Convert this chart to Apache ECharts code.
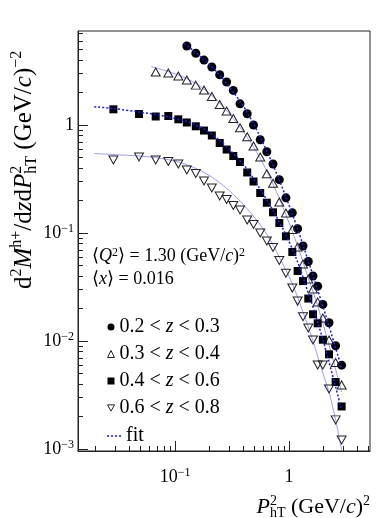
<!DOCTYPE html>
<html>
<head>
<meta charset="utf-8">
<script src="https://cdn.jsdelivr.net/npm/echarts@6/dist/echarts.min.js"></script>
<style>
  html, body { margin: 0; padding: 0; background: #fff; }
  #main { width: 382px; height: 518px; }
</style>
</head>
<body>
<div id="main"></div>
<script>
// P_hT^2 bin centres (GeV/c)^2, shared by all z bins
var pt2 = [0.0288, 0.0483, 0.0677, 0.0873, 0.1069, 0.1269, 0.1522, 0.1796, 0.2103, 0.2466,
  0.2836, 0.3246, 0.3717, 0.4298, 0.4882, 0.5590, 0.6388, 0.7241, 0.8221, 0.9393,
  1.069, 1.190, 1.327, 1.476, 1.623, 1.785, 1.980, 2.244, 2.564, 2.894];

// multiplicities, each z bin starts at a different pt2 index
var zA = [5.38, 4.61, 3.99, 3.44, 2.92, 2.50, 2.09, 1.57, 1.27, 1.00,
  0.731, 0.566, 0.436, 0.312, 0.212, 0.154, 0.110, 0.0760, 0.0546, 0.0401,
  0.0323, 0.0219, 0.0148, 0.00908, 0.00600];            // 0.2<z<0.3, from index 5
var zB = [3.09, 3.03, 2.84, 2.61, 2.34, 2.11, 1.835, 1.548, 1.347, 1.148,
  0.944, 0.779, 0.639, 0.506, 0.354, 0.289, 0.194, 0.1534, 0.1080, 0.0744,
  0.0518, 0.0376, 0.0304, 0.0230, 0.0164, 0.01026, 0.00635, 0.00393]; // 0.3<z<0.4, from index 2
var zC = [1.397, 1.264, 1.199, 1.211, 1.129, 1.055, 0.973, 0.889, 0.800, 0.682,
  0.593, 0.517, 0.455, 0.364, 0.300, 0.235, 0.191, 0.1557, 0.1240, 0.0934,
  0.0669, 0.0446, 0.0360, 0.0248, 0.01773, 0.01464, 0.01032, 0.00756, 0.00419, 0.00249]; // 0.4<z<0.6
var zD = [0.4745, 0.506, 0.4745, 0.460, 0.436, 0.3835, 0.356, 0.303, 0.2614, 0.2204,
  0.2046, 0.180, 0.1636, 0.1322, 0.1201, 0.1002, 0.0845, 0.0736, 0.0558, 0.0425,
  0.0310, 0.0235, 0.01685, 0.01325, 0.01026, 0.00602, 0.00602, 0.00361, 0.00187, 0.00122]; // 0.6<z<0.8

// fit curves
var fitAx = [0.1207, 0.1796, 0.2466, 0.3246, 0.4285, 0.559, 0.724, 0.9393, 1.190, 1.476, 1.785, 2.244, 2.894];
var fitAy = [5.70, 4.036, 2.901, 2.020, 1.319, 0.774, 0.4266, 0.2158, 0.1091, 0.0552, 0.02976, 0.01382, 0.00565];
var fitBx = [0.0616, 0.0873, 0.1267, 0.1796, 0.2466, 0.3246, 0.4285, 0.557, 0.724, 0.941, 1.190, 1.476, 1.785, 2.244, 2.894];
var fitBy = [3.476, 3.126, 2.693, 2.153, 1.598, 1.148, 0.774, 0.495, 0.2845, 0.1471, 0.0760, 0.0384, 0.02117, 0.00922, 0.00339];
var fitCx = [0.0196, 0.0288, 0.0483, 0.0677, 0.0873, 0.127, 0.1796, 0.2466, 0.3246, 0.4285, 0.557, 0.724, 0.941, 1.190, 1.476, 1.785, 2.244, 2.894];
var fitCy = [1.476, 1.421, 1.319, 1.251, 1.186, 1.077, 0.918, 0.719, 0.545, 0.392, 0.256, 0.162, 0.0960, 0.0540, 0.0279, 0.01505, 0.00642, 0.00231];
var fitDx = [0.0196, 0.0288, 0.0483, 0.0677, 0.1069, 0.1528, 0.2099, 0.2818, 0.3717, 0.4862, 0.6373, 0.8221, 1.062, 1.308, 1.614, 1.967, 2.244, 2.564, 2.894];
var fitDy = [0.545, 0.533, 0.517, 0.500, 0.455, 0.396, 0.330, 0.261, 0.198, 0.144, 0.0981, 0.0601, 0.0345, 0.01943, 0.01026, 0.00519, 0.00339, 0.00187, 0.000985];

var names = ['0.2 < z < 0.3', '0.3 < z < 0.4', '0.4 < z < 0.6', '0.6 < z < 0.8'];

var xMajor = [0.1, 1];
var xMinor = [0.02, 0.03, 0.04, 0.05, 0.06, 0.07, 0.08, 0.09, 0.2, 0.3, 0.4, 0.5, 0.6, 0.7, 0.8, 0.9, 2, 3, 4, 5];
var yMajor = [0.001, 0.01, 0.1, 1];
var yMinor = [0.002, 0.003, 0.004, 0.005, 0.006, 0.007, 0.008, 0.009, 0.02, 0.03, 0.04, 0.05, 0.06, 0.07, 0.08, 0.09,
  0.2, 0.3, 0.4, 0.5, 0.6, 0.7, 0.8, 0.9, 2, 3, 4, 5, 6, 7];

var serif = 'Liberation Serif';
var downTri = 'path://M0,0L10,0L5,9Z';
var dashIcon = 'path://M0,0h2v1.5h-2zM4,0h2v1.5h-2zM8,0h2v1.5h-2zM12,0h2v1.5h-2z';
var openStyle = { color: 'transparent', borderColor: '#222', borderWidth: 1, opacity: 1 };

function pairs(xs, ys, start) {
  var out = [];
  for (var i = 0; i < ys.length; i++) out.push([xs[start + i], ys[i]]);
  return out;
}

function powLabel(v) {
  var e = Math.round(Math.log10(v));
  if (e === 0) return '{m|1}';
  return '{m|10}{s|' + (e < 0 ? '\u2212' : '') + Math.abs(e) + '}';
}

var labelRich = {
  m: { fontFamily: serif, fontSize: 18, color: '#000', lineHeight: 20 },
  s: { fontFamily: serif, fontSize: 12, color: '#000', verticalAlign: 'top', lineHeight: 12 }
};

var xMin = 0.01409, xMax = 5.134, yMin = 0.000964, yMax = 7.41;

function logAxis(min, max, ticks, labels, major) {
  return {
    type: 'log',
    min: min,
    max: max,
    axisLine: { show: !major, lineStyle: { color: '#222', width: 1 } },
    axisTick: {
      show: true, inside: true, length: major ? 10 : 5,
      customValues: ticks,
      lineStyle: { color: '#222', width: 1 }
    },
    axisLabel: major ? { show: false } : {
      show: true, customValues: labels, formatter: powLabel, rich: labelRich
    },
    splitLine: { show: false }
  };
}

var xa0 = logAxis(xMin, xMax, xMajor.concat(xMinor), xMajor, false);
xa0.position = 'bottom';
xa0.axisLabel.margin = 16;
var xa1 = logAxis(xMin, xMax, xMajor, null, true);
xa1.position = 'bottom';
var ya0 = logAxis(yMin, yMax, yMajor.concat(yMinor), yMajor, false);
ya0.position = 'left';
ya0.axisLabel.margin = 4;
var ya1 = logAxis(yMin, yMax, yMajor, null, true);
ya1.position = 'left';

var chart = echarts.init(document.getElementById('main'));

var option = {
  animation: false,
  backgroundColor: '#fff',
  grid: { left: 78, right: 12, top: 31, bottom: 67, show: true, borderColor: '#222', borderWidth: 1 },
  xAxis: [xa0, xa1],
  yAxis: [ya0, ya1],
  legend: [{
    orient: 'vertical', left: 102, top: 312,
    itemWidth: 7, itemHeight: 7, itemGap: 7,
    data: [
      { name: names[0], icon: 'circle' },
      { name: names[1], icon: 'triangle', itemStyle: openStyle },
      { name: names[2], icon: 'rect' },
      { name: names[3], icon: downTri, itemStyle: openStyle }
    ],
    formatter: function (n) { return n.replace('z', '{i|z}'); },
    textStyle: {
      fontFamily: serif, fontSize: 20, color: '#000', lineHeight: 20,
      rich: { i: { fontFamily: serif, fontSize: 20, fontStyle: 'italic', color: '#000' } }
    },
    selectedMode: false
  }, {
    orient: 'vertical', left: 102, top: 421,
    itemWidth: 14, itemHeight: 1.5,
    data: [{ name: 'fit', icon: dashIcon }],
    textStyle: { fontFamily: serif, fontSize: 20, color: '#000' },
    selectedMode: false
  }],
  graphic: [{
    type: 'text', left: 92, top: 247,
    style: {
      text: '\u27e8{i|Q}{s|2}\u27e9 = 1.30 (GeV/{i|c}){s|2}',
      font: '18px ' + serif, fill: '#000',
      rich: {
        i: { fontFamily: serif, fontSize: 18, fontStyle: 'italic', fill: '#000' },
        s: { fontFamily: serif, fontSize: 12, verticalAlign: 'top', fill: '#000' }
      }
    }
  }, {
    type: 'text', left: 92, top: 270,
    style: {
      text: '\u27e8{i|x}\u27e9 = 0.016',
      font: '18px ' + serif, fill: '#000',
      rich: { i: { fontFamily: serif, fontSize: 18, fontStyle: 'italic', fill: '#000' } }
    }
  }, {
    type: 'text', right: 12, top: 494,
    style: {
      text: '{i|P}{s0|2}{b|hT} (GeV/{i|c}){s|2}',
      font: '22px ' + serif, fill: '#000',
      rich: {
        i: { fontFamily: serif, fontSize: 22, fontStyle: 'italic', fill: '#000', lineHeight: 26 },
        s0: { fontFamily: serif, fontSize: 14, verticalAlign: 'top', width: 0, fill: '#000' },
        s: { fontFamily: serif, fontSize: 14, verticalAlign: 'top', fill: '#000' },
        b: { fontFamily: serif, fontSize: 14, verticalAlign: 'bottom', fill: '#000' }
      }
    }
  }, {
    type: 'text', x: 24, y: 289, rotation: Math.PI / 2,
    style: {
      text: 'd{s|2}{i|M}{s|h+}/d{i|z}d{i|P}{s0|2}{b|hT} (GeV/{i|c}){s|\u22122}',
      font: '25px ' + serif, fill: '#000',
      align: 'left', verticalAlign: 'middle',
      rich: {
        i: { fontFamily: serif, fontSize: 25, fontStyle: 'italic', fill: '#000', lineHeight: 31 },
        s0: { fontFamily: serif, fontSize: 16, verticalAlign: 'top', width: 0, fill: '#000' },
        s: { fontFamily: serif, fontSize: 16, verticalAlign: 'top', fill: '#000' },
        b: { fontFamily: serif, fontSize: 16, verticalAlign: 'bottom', fill: '#000' }
      }
    }
  }],
  series: [{
    name: names[0], type: 'scatter', symbol: 'circle', symbolSize: 9,
    itemStyle: { color: '#000', opacity: 1 }, data: pairs(pt2, zA, 5), z: 3
  }, {
    name: names[1], type: 'scatter', symbol: 'triangle', symbolSize: [9, 8],
    itemStyle: openStyle, data: pairs(pt2, zB, 2), z: 3
  }, {
    name: names[2], type: 'scatter', symbol: 'rect', symbolSize: 8,
    itemStyle: { color: '#000', opacity: 1 }, data: pairs(pt2, zC, 0), z: 3
  }, {
    name: names[3], type: 'scatter', symbol: downTri, symbolSize: [9, 8],
    itemStyle: openStyle, data: pairs(pt2, zD, 0), z: 3
  }, {
    name: 'fitLight', type: 'line', symbol: 'none', smooth: 0.3,
    lineStyle: { color: '#9b9bff', width: 1 }, data: pairs(fitBx, fitBy, 0), z: 2
  }, {
    name: 'fitLight', type: 'line', symbol: 'none', smooth: 0.3,
    lineStyle: { color: '#9b9bff', width: 1 }, data: pairs(fitDx, fitDy, 0), z: 2
  }, {
    name: 'fit', type: 'line', symbol: 'none', smooth: 0.3,
    itemStyle: { color: '#1a1aff' },
    lineStyle: { color: '#1a1aff', width: 1.5, type: [2, 2] }, data: pairs(fitAx, fitAy, 0), z: 4
  }, {
    name: 'fit', type: 'line', symbol: 'none', smooth: 0.3,
    itemStyle: { color: '#1a1aff' },
    lineStyle: { color: '#1a1aff', width: 1.5, type: [2, 2] }, data: pairs(fitCx, fitCy, 0), z: 4
  }]
};

chart.setOption(option);
</script>
</body>
</html>
